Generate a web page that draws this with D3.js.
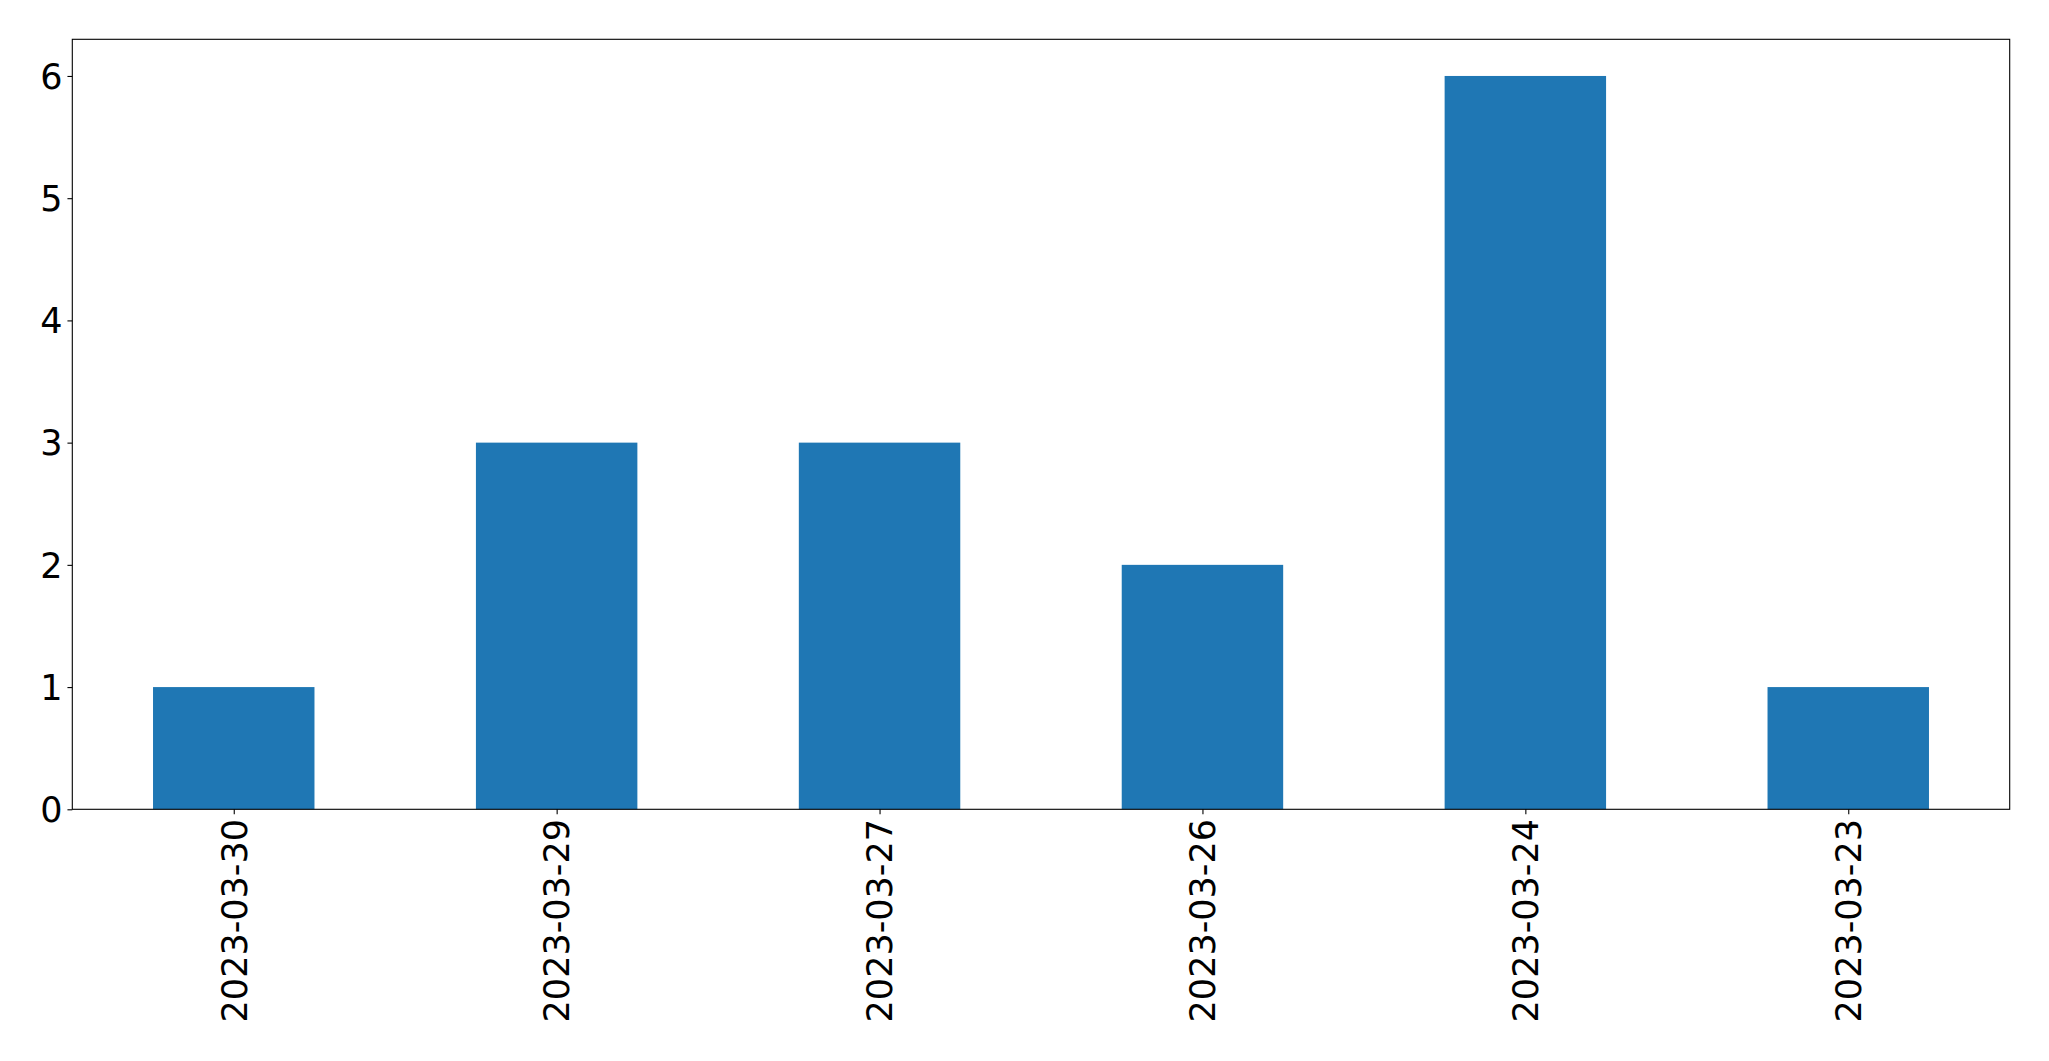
<!DOCTYPE html>
<html><head><meta charset="utf-8">
<script src="https://cdn.jsdelivr.net/npm/d3@7/dist/d3.min.js"></script>
<style>
html,body{margin:0;padding:0;background:#fff;}
svg{display:block;}
text{font-family:"DejaVu Sans",sans-serif;fill:#000;}
</style></head>
<body>
<script>
const categories = ["2023-03-30","2023-03-29","2023-03-27","2023-03-26","2023-03-24","2023-03-23"];
const values = [1,3,3,2,6,1];
const yTicks = [0,1,2,3,4,5,6];

const W = 2049, H = 1061;
const mLeft = 72.3, mRight = 2009.7, mTop = 39.3, mBottom = 809.3;

const svg = d3.select("body").append("svg").attr("width", W).attr("height", H);

const x = d3.scaleLinear().domain([-0.5, categories.length - 0.5]).range([mLeft, mRight]);
const y = d3.scaleLinear().domain([0, 6.3]).range([mBottom, mTop]);

svg.append("g").selectAll("rect").data(values).join("rect")
  .attr("x", (d,i) => x(i - 0.25))
  .attr("width", (d,i) => x(i + 0.25) - x(i - 0.25))
  .attr("y", d => y(d))
  .attr("height", d => y(0) - y(d))
  .attr("fill", "#1f77b4");

const fs = 35;
const yAxis = svg.append("g").attr("transform", `translate(${mLeft},0)`)
  .call(d3.axisLeft(y).tickValues(yTicks).tickFormat(d3.format("d")).tickSize(4.86).tickPadding(4.86));
const xAxis = svg.append("g").attr("transform", `translate(0,${mBottom})`)
  .call(d3.axisBottom(x).tickValues(d3.range(categories.length)).tickFormat(i => categories[i]).tickSize(4.86).tickPadding(4.86));

[yAxis, xAxis].forEach(g => {
  g.select(".domain").remove();
  g.selectAll(".tick line").attr("stroke", "#000").attr("stroke-width", 1.1);
  g.selectAll("text").attr("font-size", fs).attr("font-family", "DejaVu Sans").attr("fill", "#000");
});
yAxis.selectAll("text").attr("dy", "0.35em");
xAxis.selectAll("text")
  .attr("transform", "rotate(-90)")
  .attr("text-anchor", "end")
  .attr("x", -9.7)
  .attr("y", 0)
  .attr("dy", "0.35em");

svg.append("rect")
  .attr("x", mLeft).attr("y", mTop)
  .attr("width", mRight - mLeft).attr("height", mBottom - mTop)
  .attr("fill", "none").attr("stroke", "#000").attr("stroke-width", 1.1);
</script>
</body></html>
